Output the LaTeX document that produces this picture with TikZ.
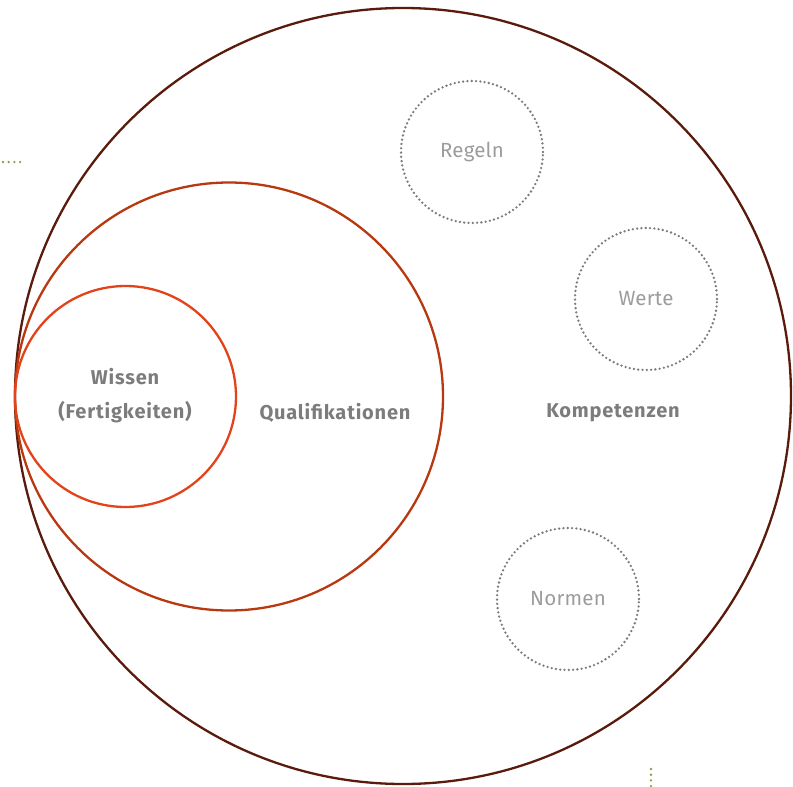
\documentclass[tikz,border=0pt]{standalone}
\usepackage{fontspec}
\setmainfont{Fira Sans}
\definecolor{kompbrown}{HTML}{5A1A0C}
\definecolor{qualred}{HTML}{B8380F}
\definecolor{wissorange}{HTML}{E2431A}
\definecolor{labelgray}{HTML}{7C7C7C}
\definecolor{lightgray}{HTML}{9C9C9C}
\definecolor{olivedot}{HTML}{8C9A4E}
\tikzset{
  ring/.style={draw, circle, inner sep=0pt, line width=2.3pt},
  valuering/.style={draw=labelgray, circle, inner sep=0pt, minimum size=142pt,
    line width=2.6pt, line cap=round, dash pattern=on 0pt off 4.3pt,
    text=lightgray, font=\fontsize{20.5}{24}\selectfont\addfontfeature{LetterSpace=1}},
  mainlabel/.style={text=labelgray, font=\fontsize{20}{24}\selectfont\bfseries\addfontfeature{LetterSpace=4}},
  marker/.style={olivedot, line width=2.6pt, line cap=round, dash pattern=on 0pt off 5.7pt}
}
\begin{document}
\begin{tikzpicture}[x=1pt, y=-1pt]
  \useasboundingbox (0, 0) rectangle (793, 787);

  \node[ring, draw=kompbrown, minimum size=776pt] (K) at (403, 396) {};
  \node[ring, draw=qualred, minimum size=428pt] (Q) at (229, 396.5) {};
  \node[ring, draw=wissorange, minimum size=221pt] (W) at (125.5, 396.5) {};

  \node[mainlabel] (Wt) at (125, 377) {Wissen};
  \node[mainlabel] (Ft) at (125, 412.5) {(Fertigkeiten)};
  \node[mainlabel] (Qt) at (335, 412.5) {Qualifikationen};
  \node[mainlabel] (Kt) at (613, 412.5) {Kompetenzen};

  \node[valuering] (R) at (472, 152) {Regeln};
  \node[valuering] (V) at (646, 299) {Werte};
  \node[valuering] (N) at (568, 599) {Normen};

  \draw[marker] (3, 162) -- (21, 162);
  \draw[marker] (651, 769) -- (651, 787);
\end{tikzpicture}
\end{document}
